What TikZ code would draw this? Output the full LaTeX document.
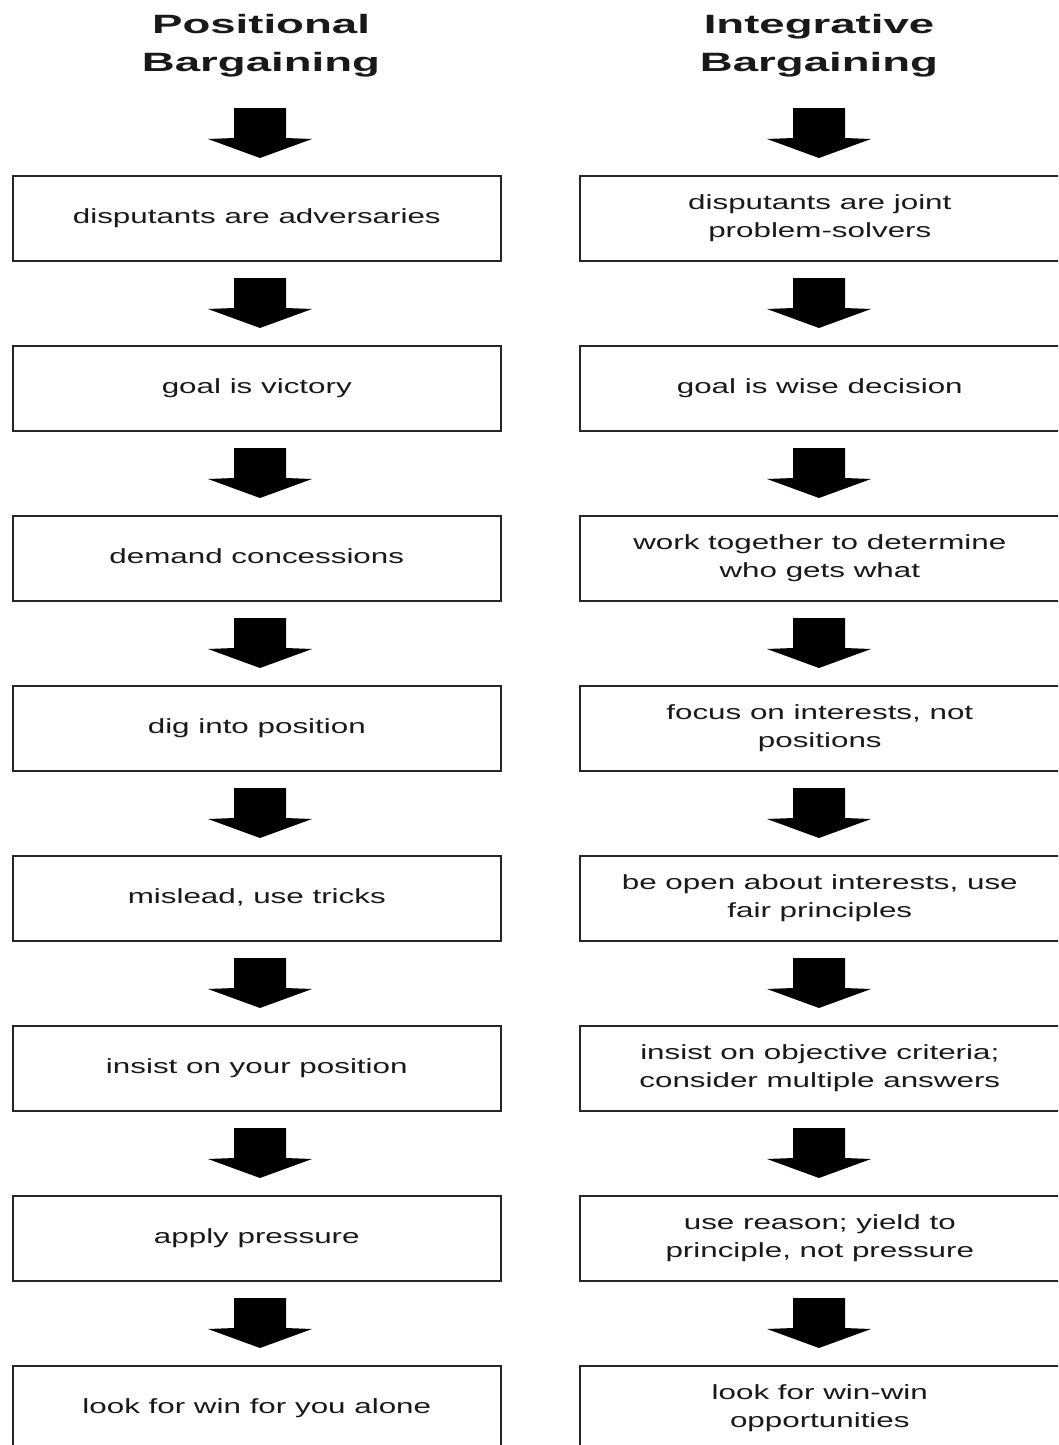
\documentclass[tikz,border=0pt]{standalone}
\usepackage{fontspec}
\setmainfont{Liberation Sans}
\usepackage{graphicx}
\newcommand{\widetxt}[2]{\scalebox{#1}[1]{\begin{tabular}{@{}c@{}}#2\end{tabular}}}
\tikzset{
  box/.style={draw=black!85, line width=1.6pt, minimum width=488pt, minimum height=85pt,
    inner sep=0pt, anchor=north west, text=black!90,
    font=\fontsize{20.5}{28}\selectfont},
  ttl/.style={font=\bfseries\fontsize{26.5}{37}\selectfont, anchor=base, inner sep=0pt, text=black!90},
  blockarrow/.pic={\fill[black] (-26,0) -- (26,0) -- (26,-30) -- (52,-31) -- (0,-50) -- (-52,-31) -- (-26,-30) -- cycle;}
}
\begin{document}
\begin{tikzpicture}[x=1pt,y=1pt]
\useasboundingbox (0,0) rectangle (1058,-1445);
\clip (0,0) rectangle (1058,-1445);
\fill[white] (0,0) rectangle (1058,-1445);
% titles
\node[ttl] (pt1) at (261,-34) {\scalebox{1.72}[1]{Positional}};
\node[ttl] (pt2) at (261,-71) {\scalebox{1.72}[1]{Bargaining}};
\node[ttl] (it1) at (819,-34) {\scalebox{1.72}[1]{Integrative}};
\node[ttl] (it2) at (819,-71) {\scalebox{1.72}[1]{Bargaining}};
% left column
\foreach \i/\t in {1/{disputants are adversaries}, 2/{goal is victory}, 3/{demand concessions},
  4/{dig into position}, 5/{mislead, use tricks}, 6/{insist on your position},
  7/{apply pressure}, 8/{look for win for you alone}}{
  \node[box] (L\i) at (12,{-175-170*(\i-1)}) {\widetxt{1.53}{\t}};
  \pic at (260,{-108-170*(\i-1)}) {blockarrow};
}
% right column
\foreach \i/\t in {1/{disputants are joint\\problem-solvers}, 2/{goal is wise decision},
  3/{work together to determine\\who gets what}, 4/{focus on interests, not\\positions},
  5/{be open about interests, use\\fair principles}, 6/{insist on objective criteria;\\consider multiple answers},
  7/{use reason; yield to\\principle, not pressure}, 8/{look for win-win\\opportunities}}{
  \node[box, minimum width=488pt] (R\i) at (579,{-175-170*(\i-1)}) {\widetxt{1.53}{\t}\hspace*{8pt}};
  \pic at (819,{-108-170*(\i-1)}) {blockarrow};
}
\end{tikzpicture}
\end{document}
